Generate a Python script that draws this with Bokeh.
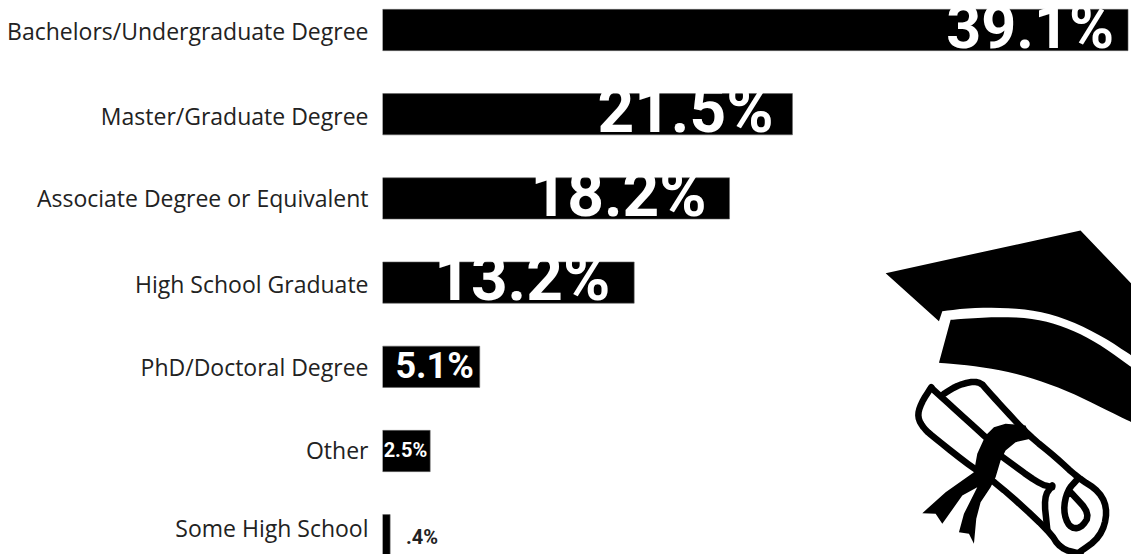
from bokeh.embed import file_html
from bokeh.models import ColumnDataSource, FixedTicker, Range1d
from bokeh.plotting import figure
from bokeh.resources import INLINE
from bokeh.core.properties import value

# Highest level of education, share of respondents
categories = ["Bachelors/Undergraduate Degree", "Master/Graduate Degree",
              "Associate Degree or Equivalent", "High School Graduate",
              "PhD/Doctoral Degree", "Other", "Some High School"]
shares = [39.1, 21.5, 18.2, 13.2, 5.1, 2.5, 0.4]
share_labels = ["39.1%", "21.5%", "18.2%", "13.2%", "5.1%", "2.5%", ".4%"]

# Per-row styling of the value labels and the category names
label_sizes = [61, 64, 64, 64, 36, 20, 20]
label_colors = ["white"] * 6 + ["#222222"]
label_shift_x = [-14, -19, -23, -24, -6, -3, 48]
label_shift_y = [-3, -4, -4, -4, -1, -1, 2]
name_shift_y = [0.5, 2, 0, 1, 0, -1, -7]

# Icon outlines, on a grid three times finer than the page, anchored at (870, 220)
ICON_X, ICON_Y, ICON_SCALE = 870, 220, 1 / 3
cap_top_edge = [(45, 158), (630, 30), (783, 190)]
cap_top_curve = [(783, 405), (700, 350), (600, 300), (500, 270), (400, 262), (300, 262), (215, 272)]
cap_top_tail = [(205, 302)]
cap_band_curve = [(240, 298), (350, 290), (450, 290), (540, 305), (620, 335), (700, 380), (783, 440)]
cap_band_lower = [(783, 605), (700, 565), (600, 515), (500, 478), (400, 450), (300, 435), (205, 427)]
ribbon = [(405, 610), (465, 615), (480, 655), (435, 665), (405, 690), (390, 720), (375, 770),
          (360, 800), (330, 845), (317, 895), (310, 970), (295, 940), (265, 935), (280, 880),
          (320, 800), (275, 825), (215, 910), (195, 880), (155, 878), (225, 815), (310, 755),
          (320, 700), (345, 645), (370, 620)]
scroll_strokes = [
    [(182, 500), (150, 550), (140, 590), (160, 625), (195, 655), (310, 745), (375, 785),
     (535, 930), (570, 985), (630, 1000)],
    [(182, 502), (235, 550), (345, 650)],
    [(390, 705), (505, 790), (545, 800)],
    [(545, 795), (520, 830), (530, 925)],
    [(220, 520), (265, 492), (325, 480), (355, 515), (405, 570), (475, 645), (555, 710),
     (620, 770), (690, 815), (712, 875), (690, 950), (620, 1000)],
    [(622, 775), (590, 810), (578, 870), (595, 920), (630, 925), (660, 880), (600, 815)],
]


def smooth(points, rounds=2):
    """Corner cutting that keeps the end points of an open curve."""
    for _ in range(rounds):
        out = [points[0]]
        for (x0, y0), (x1, y1) in zip(points, points[1:]):
            out.append((0.75 * x0 + 0.25 * x1, 0.75 * y0 + 0.25 * y1))
            out.append((0.25 * x0 + 0.75 * x1, 0.25 * y0 + 0.75 * y1))
        out.append(points[-1])
        points = out
    return points


def icon_xy(points):
    return ([ICON_X + a * ICON_SCALE for a, _ in points],
            [ICON_Y + b * ICON_SCALE for _, b in points])


LEFT = 381.5
UNIT = 19.08
ROW = 84.2
FIRST_ROW = 29.5
rows = list(range(len(categories)))
name_ticks = [r + s / ROW for r, s in zip(rows, name_shift_y)]

p = figure(width=1131, height=554, output_backend="svg", toolbar_location=None,
           x_range=Range1d(0, (1131 - LEFT) / UNIT),
           y_range=Range1d((554 - FIRST_ROW) / ROW, -FIRST_ROW / ROW),
           x_axis_location=None, min_border_left=round(LEFT), min_border_right=0,
           min_border_top=0, min_border_bottom=0, outline_line_color=None,
           background_fill_color="white", border_fill_color="white")
p.extra_x_ranges["page_x"] = Range1d(LEFT, 1131)
p.extra_y_ranges["page_y"] = Range1d(554, 0)
p.grid.visible = False
yaxis = p.yaxis[0]
yaxis.ticker = FixedTicker(ticks=name_ticks)
yaxis.major_label_overrides = dict(zip(name_ticks, categories))
yaxis.axis_line_color = None
yaxis.major_tick_line_color = None
yaxis.minor_tick_line_color = None
yaxis.major_label_text_font = "Open Sans"
yaxis.major_label_text_font_size = "23px"
yaxis.major_label_text_color = "#222222"
yaxis.major_label_standoff = 8

source = ColumnDataSource(dict(row=rows, share=shares, label=share_labels,
                               size=[f"{s}px" for s in label_sizes], color=label_colors,
                               dx=label_shift_x, dy=label_shift_y))
p.hbar(y="row", left=0, right="share", height=0.49, source=source,
       fill_color="black", line_color="#666666", line_width=0.6)
p.text(x="share", y="row", text="label", source=source, text_font=value("Roboto"),
       text_font_style="bold", text_font_size="size", text_color="color",
       text_align="right", text_baseline="alphabetic", x_offset="dx", y_offset="dy")

cap_top = cap_top_edge + smooth(cap_top_curve) + cap_top_tail
cap_band = smooth(cap_band_curve) + smooth(cap_band_lower)
for shape in (cap_top, cap_band, ribbon):
    xs, ys = icon_xy(shape)
    p.patch(xs, ys, x_range_name="page_x", y_range_name="page_y", fill_color="black", line_color=None)
for stroke in scroll_strokes:
    xs, ys = icon_xy(smooth(stroke))
    p.line(xs, ys, x_range_name="page_x", y_range_name="page_y", line_color="black",
           line_width=6.5, line_join="round", line_cap="round")

open("out.html", "w").write(file_html(p, INLINE))
